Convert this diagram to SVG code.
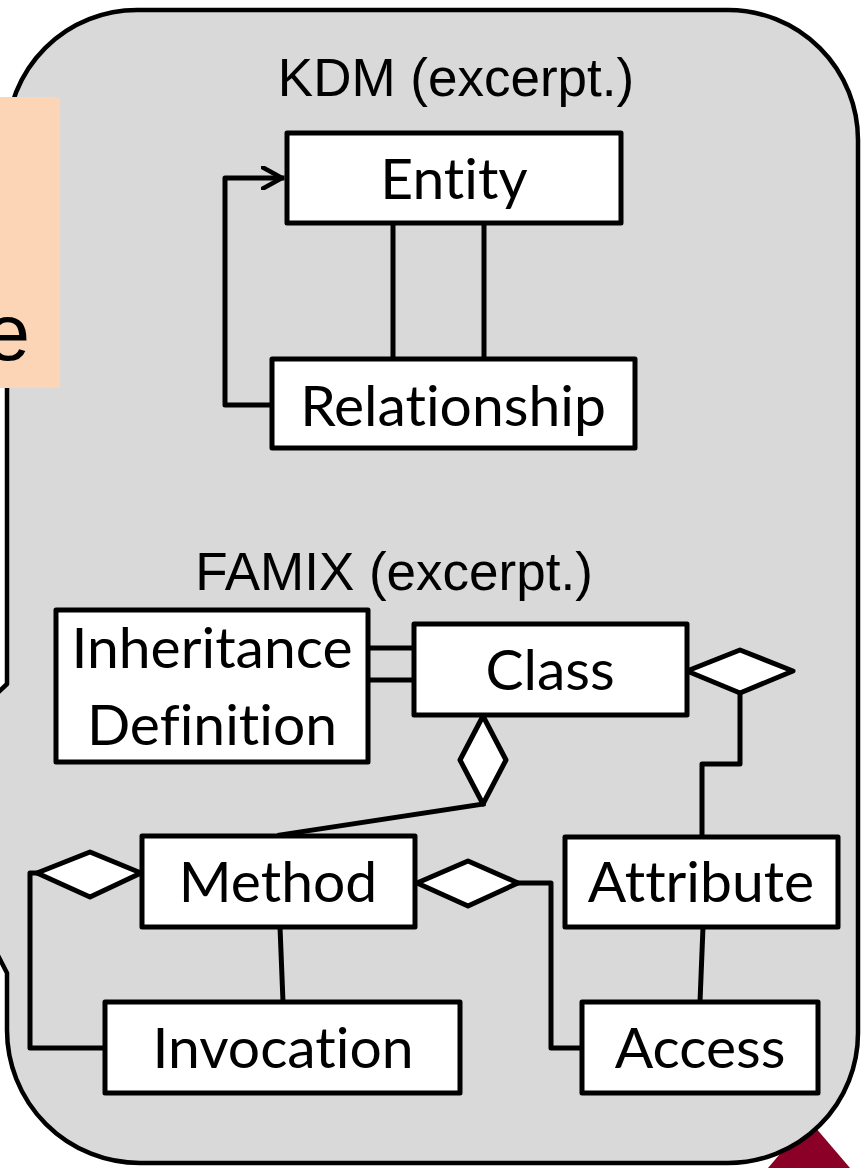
<svg xmlns="http://www.w3.org/2000/svg" width="867" height="1168" viewBox="0 0 867 1168">
  <style>
    .panel { fill: #d9d9d9; stroke: #000; stroke-width: 4.5; stroke-linejoin: round; }
    .box { fill: #fff; stroke: #000; stroke-width: 5; stroke-linejoin: round; }
    .lbl { font-family: Lato, "Open Sans", sans-serif; font-size: 57px; fill: #000; text-anchor: middle; font-variant-ligatures: none; font-feature-settings: "liga" 0, "clig" 0; }
    .title { font-family: "Liberation Sans", Arial, sans-serif; font-size: 53px; fill: #000; text-anchor: middle; }
    .wire { fill: none; stroke: #000; stroke-width: 5; stroke-linejoin: round; stroke-linecap: square; }
    .dia { fill: #fff; stroke: #000; stroke-width: 5; stroke-linejoin: round; }
  </style>
  <defs>
    <marker id="openArrow" viewBox="0 0 24 24" refX="21" refY="12" markerWidth="24" markerHeight="24" markerUnits="userSpaceOnUse" orient="auto">
      <path d="M2,1.5 L21,12 L2,22.5" fill="none" stroke="#000" stroke-width="4.5" stroke-linecap="round" stroke-linejoin="round"/>
    </marker>
  </defs>

  <rect width="867" height="1168" fill="#fff"/>

  <!-- red corner mark behind the panel -->
  <polygon points="809,1120 762,1175 856,1175" fill="#8a0026"/>

  <!-- grey panel holding both metamodel excerpts -->
  <path class="panel" d="M137,10 H728 A130,130 0 0 1 858,140 V1033 A130,130 0 0 1 728,1163 H140 A133,133 0 0 1 7,1030 V973 L-10,940 V700 L7,684 V140 A130,130 0 0 1 137,10 Z"/>

  <!-- peach callout running off the left edge -->
  <g id="callout">
    <rect x="-10" y="97" width="70" height="291" fill="#fbd5b6"/>
    <text x="30" y="360" font-family="Liberation Sans, Arial, sans-serif" font-size="80" text-anchor="end" fill="#000">e</text>
  </g>

  <text class="title" x="456" y="96">KDM (excerpt.)</text>
  <text class="title" x="394" y="590">FAMIX (excerpt.)</text>

  <!-- connectors -->
  <g id="connectors">
    <!-- KDM -->
    <path class="wire" d="M272,405 H225 V178 H282" marker-end="url(#openArrow)"/>
    <line class="wire" x1="393" y1="223" x2="393" y2="359"/>
    <line class="wire" x1="484" y1="223" x2="484" y2="359"/>
    <!-- FAMIX -->
    <line class="wire" x1="368" y1="648" x2="414" y2="648"/>
    <line class="wire" x1="368" y1="680" x2="414" y2="680"/>
    <polygon class="dia" points="687,671 740,650 793,671 740,693"/>
    <path class="wire" d="M740,693 V764 H702 V837"/>
    <polygon class="dia" points="483,716 460,760 483,804 506,760"/>
    <line class="wire" x1="483" y1="804" x2="280" y2="835"/>
    <polygon class="dia" points="37,873 90,852 141,873 90,897"/>
    <path class="wire" d="M37,873 H30 V1048 H105"/>
    <line class="wire" x1="280" y1="927" x2="283" y2="1002"/>
    <polygon class="dia" points="417,883 468,861 518,883 468,906"/>
    <path class="wire" d="M518,883 H551 V1048 H582"/>
    <line class="wire" x1="703" y1="927" x2="700" y2="1002"/>
  </g>

  <g id="entity">
    <rect class="box" x="287" y="133" width="334" height="90"/>
    <text class="lbl" x="454" y="199">Entity</text>
  </g>
  <g id="relationship">
    <rect class="box" x="272" y="359" width="363" height="89"/>
    <text class="lbl" x="453" y="426">Relationship</text>
  </g>
  <g id="inheritance-definition">
    <rect class="box" x="56" y="610" width="312" height="152"/>
    <text class="lbl" x="212" y="668">Inheritance</text>
    <text class="lbl" x="212" y="745">Definition</text>
  </g>
  <g id="class">
    <rect class="box" x="414" y="624" width="273" height="91"/>
    <text class="lbl" x="550" y="690">Class</text>
  </g>
  <g id="method">
    <rect class="box" x="142" y="836" width="273" height="91"/>
    <text class="lbl" x="278" y="902">Method</text>
  </g>
  <g id="attribute">
    <rect class="box" x="565" y="837" width="273" height="90"/>
    <text class="lbl" x="701" y="902">Attribute</text>
  </g>
  <g id="invocation">
    <rect class="box" x="105" y="1002" width="355" height="91"/>
    <text class="lbl" x="283" y="1068">Invocation</text>
  </g>
  <g id="access">
    <rect class="box" x="582" y="1002" width="236" height="91"/>
    <text class="lbl" x="700" y="1068">Access</text>
  </g>
</svg>
